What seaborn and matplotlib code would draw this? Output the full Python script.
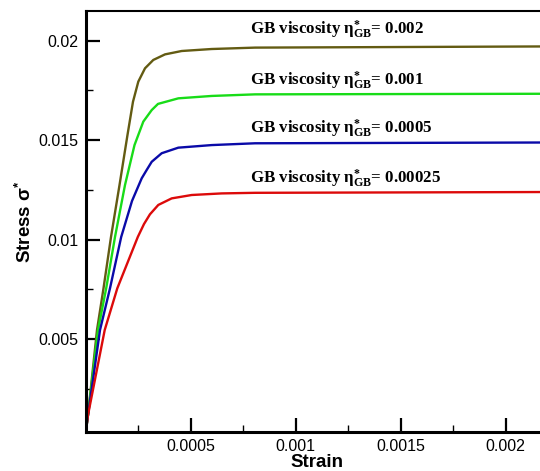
import numpy as np
import pandas as pd
import matplotlib
matplotlib.use("Agg")
import matplotlib.pyplot as plt
import seaborn as sns

# ---- data ----
strain_002 = [0.0, 0.000011, 0.0000538, 0.0000848, 0.0001205, 0.0001610, 0.0001990, 0.0002252,
              0.0002505, 0.0002824, 0.0003219, 0.0003776, 0.0004571, 0.0006, 0.0008062, 0.0022]
stress_002 = [0.0003, 0.00118, 0.00545, 0.00755, 0.01013, 0.01274, 0.01526, 0.01693,
              0.01794, 0.01861, 0.01903, 0.01931, 0.01948, 0.01958, 0.01965, 0.01971]

strain_001 = [0.0, 0.000011, 0.0000586, 0.0000976, 0.0001395, 0.0001871, 0.0002324, 0.0002743,
              0.0003143, 0.0003443, 0.0004410, 0.0006, 0.0008062, 0.0022]
stress_001 = [0.0003, 0.00118, 0.00545, 0.00755, 0.01013, 0.01274, 0.01475, 0.01593,
              0.01651, 0.01682, 0.01710, 0.01722, 0.01730, 0.01733]

strain_0005 = [0.0, 0.000011, 0.0000681, 0.0001157, 0.0001690, 0.0002205, 0.0002667, 0.0002905,
               0.0003143, 0.0003619, 0.0004410, 0.0006, 0.0008062, 0.0022]
stress_0005 = [0.0003, 0.00118, 0.00545, 0.00755, 0.01013, 0.01194, 0.01308, 0.0135,
               0.01391, 0.01434, 0.01462, 0.01475, 0.01484, 0.01488]

strain_00025 = [0.0, 0.000011, 0.0000905, 0.0001505, 0.0002481, 0.0002776, 0.0003060,
                0.0003457, 0.0004095, 0.0005048, 0.0006476, 0.0008062, 0.0022]
stress_00025 = [0.0003, 0.00118, 0.00545, 0.00755, 0.01013, 0.01078, 0.01127,
                0.01174, 0.01207, 0.01224, 0.01232, 0.01235, 0.01239]

viscosities = ["0.002", "0.001", "0.0005", "0.00025"]
label_y = [0.02028, 0.01776, 0.01534, 0.01283]
x_ticks = [0.0005, 0.001, 0.0015, 0.002]
x_ticklabels = ["0.0005", "0.001", "0.0015", "0.002"]
y_ticks = [0.005, 0.01, 0.015, 0.02]
y_ticklabels = ["0.005", "0.01", "0.015", "0.02"]

colors = {"0.002": "#635b12", "0.001": "#18dc18", "0.0005": "#0a0aa8", "0.00025": "#dc0a0a"}

frames = []
for v, sx, sy in zip(viscosities,
                     [strain_002, strain_001, strain_0005, strain_00025],
                     [stress_002, stress_001, stress_0005, stress_00025]):
    frames.append(pd.DataFrame({"strain": sx, "stress": sy, "visc": v}))
df = pd.concat(frames, ignore_index=True)

sns.set_style("white")
plt.rcParams["font.family"] = ["Liberation Sans", "DejaVu Sans"]
plt.rcParams["mathtext.fontset"] = "custom"
plt.rcParams["mathtext.rm"] = "Liberation Serif:bold"
plt.rcParams["mathtext.it"] = "Liberation Serif:bold"
plt.rcParams["mathtext.bf"] = "Liberation Serif:bold"

fig = plt.figure(figsize=(5.40, 4.71), dpi=100)
ax = fig.add_axes([0.1587, 0.0822, 0.8556, 0.8944])

sns.lineplot(data=df, x="strain", y="stress", hue="visc", palette=colors,
             estimator=None, sort=False, linewidth=1.7, legend=False, ax=ax)

ax.set_xlim(0, 0.0022)
ax.set_ylim(0.00031, 0.02149)

ax.set_xticks(x_ticks)
ax.set_xticklabels(x_ticklabels)
ax.set_xticks([0.00025, 0.00075, 0.00125, 0.00175], minor=True)
ax.set_yticks(y_ticks)
ax.set_yticklabels(y_ticklabels)
ax.set_yticks([0.0025, 0.0075, 0.0125, 0.0175], minor=True)

ax.tick_params(axis="both", which="major", direction="in", length=10, width=1.6,
               labelsize=11.5, colors="black", pad=5)
ax.tick_params(axis="both", which="minor", direction="in", length=5, width=1.0, colors="black")
ax.tick_params(axis="x", which="both", bottom=True, top=False)
ax.tick_params(axis="y", which="both", left=True, right=False)

for side in ["left", "bottom"]:
    ax.spines[side].set_linewidth(2.2)
    ax.spines[side].set_color("black")
ax.spines["top"].set_linewidth(1.5)
ax.spines["top"].set_color("black")
ax.spines["right"].set_visible(False)

ax.set_xlabel("Strain", fontsize=13.5, fontweight="bold", labelpad=0, color="black")
ax.set_ylabel("Stress " + r"$\mathregular{\sigma^{*}}$", fontsize=13.5, fontweight="bold",
              labelpad=3, color="black")

for v, yv in zip(viscosities, label_y):
    ax.text(0.000782, yv, "GB viscosity " + r"$\mathregular{\eta_{GB}^{*}}$" + "= " + v,
            family="Liberation Serif", fontweight="bold", fontsize=12.2,
            ha="left", va="baseline", color="black")

fig.savefig("out.png", dpi=100)
